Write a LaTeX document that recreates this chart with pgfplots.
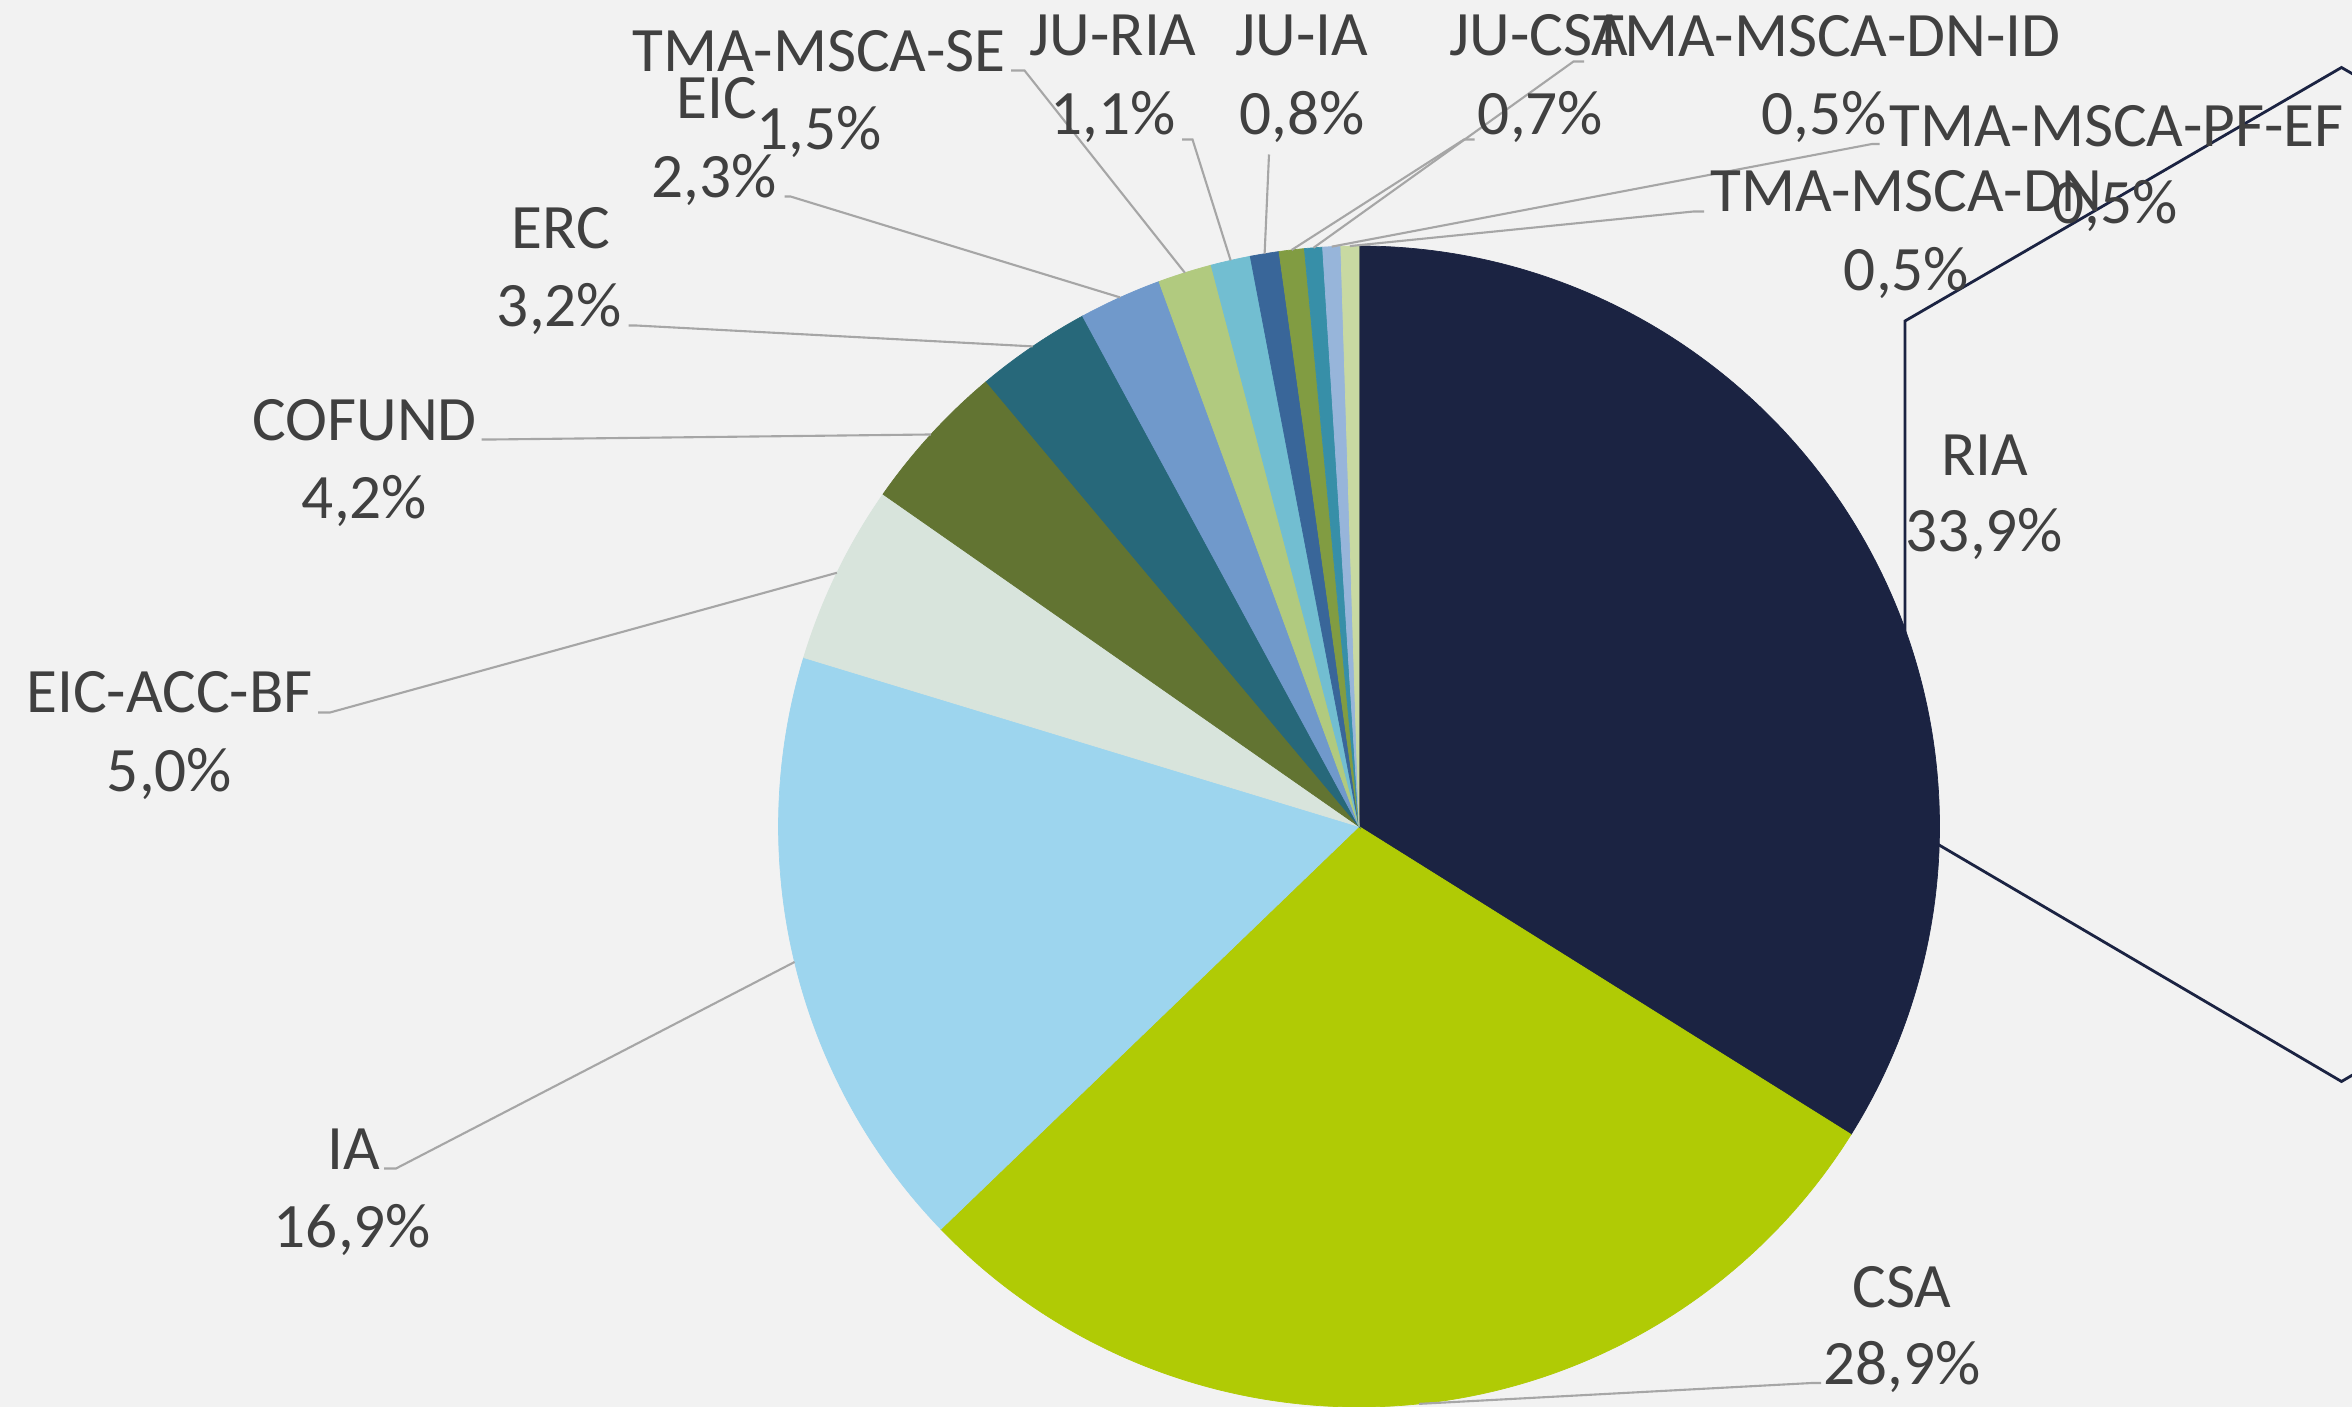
\documentclass[border=0pt]{standalone}
\usepackage{pgfplots}
\pgfplotsset{compat=1.18}
\usepackage{pgfplotstable}
\usepackage{fontspec}
\setmainfont{Carlito}
\usetikzlibrary{calc}
\definecolor{bg}{HTML}{F2F2F2}
\definecolor{txt}{HTML}{404040}
\definecolor{lead}{HTML}{A6A6A6}
\definecolor{navy}{HTML}{1B2342}
\definecolor{c0}{HTML}{1B2342}
\definecolor{c1}{HTML}{B0CB05}
\definecolor{c2}{HTML}{9DD5EE}
\definecolor{c3}{HTML}{D8E4DC}
\definecolor{c4}{HTML}{627432}
\definecolor{c5}{HTML}{27687A}
\definecolor{c6}{HTML}{7099CB}
\definecolor{c7}{HTML}{B1CA7F}
\definecolor{c8}{HTML}{72BED1}
\definecolor{c9}{HTML}{396699}
\definecolor{c10}{HTML}{819C42}
\definecolor{c11}{HTML}{378FA8}
\definecolor{c12}{HTML}{97B5DA}
\definecolor{c13}{HTML}{C8D9A2}
\pgfplotstableread{
label value
RIA 33.9
CSA 28.9
IA 16.9
EIC-ACC-BF 5.0
COFUND 4.2
ERC 3.2
EIC 2.3
TMA-MSCA-SE 1.5
JU-RIA 1.1
JU-IA 0.8
JU-CSA 0.7
TMA-MSCA-DN-ID 0.5
TMA-MSCA-PF-EF 0.5
TMA-MSCA-DN 0.5
}\piedata
\tikzset{
  lbl/.style={font=\fontsize{18}{22}\selectfont, text=txt, inner sep=0pt, anchor=base},
  leader/.style={draw=lead, line width=0.6pt},
}
\newcommand\R{5.805cm}
\begin{document}
\begin{tikzpicture}
\def\cum{0}
\pgfplotsforeachungrouped \i in {0,...,13}{%
  \pgfplotstablegetelem{\i}{value}\of\piedata
  \pgfmathsetmacro\sa{90-3.6*\cum}%
  \pgfmathsetmacro\cum{\cum+\pgfplotsretval}%
  \pgfmathsetmacro\ea{90-3.6*\cum}%
  \pgfmathsetmacro\ma{(\sa+\ea)/2}%
  \expandafter\xdef\csname sa\i\endcsname{\sa}%
  \expandafter\xdef\csname ea\i\endcsname{\ea}%
  \expandafter\xdef\csname ma\i\endcsname{\ma}%
}
\useasboundingbox (0,0) rectangle (23.52cm,14.07cm);
\clip (0,0) rectangle (23.52cm,14.07cm);
\fill[bg] (0,0) rectangle (23.52cm,14.07cm);
\begin{axis}[
  scale only axis, width=23.52cm, height=14.07cm,
  xmin=0, xmax=1568, ymin=0, ymax=938, y dir=reverse,
  hide axis, clip=false,
]
% callout outline behind RIA
\draw[navy, line width=0.8pt] (axis cs:1270,214) -- (axis cs:1561,45) -- (axis cs:1852,214)
  -- (axis cs:1852,550) -- (axis cs:1561,721) -- (axis cs:1270,550) -- cycle;
% pie slices
\pgfplotsinvokeforeach{0,...,13}{
  \fill[c#1, draw=c#1, line width=0.2pt] (axis cs:906,551) -- ($(axis cs:906,551)+(\csname sa#1\endcsname:\R)$)
    arc[start angle=\csname sa#1\endcsname, end angle=\csname ea#1\endcsname, radius=\R] -- cycle;
}
% leader lines
\draw[leader] (axis cs:1214,922) -- (axis cs:1208,922) -- ($(axis cs:906,551)+(\csname ma1\endcsname:\R)$);
\draw[leader] (axis cs:256,779) -- (axis cs:264,779) -- ($(axis cs:906,551)+(\csname ma2\endcsname:\R)$);
\draw[leader] (axis cs:212,475) -- (axis cs:220,475) -- ($(axis cs:906,551)+(\csname ma3\endcsname:\R)$);
\draw[leader] (axis cs:321,293) -- (axis cs:328,293) -- ($(axis cs:906,551)+(\csname ma4\endcsname:\R)$);
\draw[leader] (axis cs:419,217) -- (axis cs:424,217) -- ($(axis cs:906,551)+(\csname ma5\endcsname:\R)$);
\draw[leader] (axis cs:523,131) -- (axis cs:527,131) -- ($(axis cs:906,551)+(\csname ma6\endcsname:\R)$);
\draw[leader] (axis cs:674,47) -- (axis cs:683,47) -- ($(axis cs:906,551)+(\csname ma7\endcsname:\R)$);
\draw[leader] (axis cs:788,93) -- (axis cs:795,93) -- ($(axis cs:906,551)+(\csname ma8\endcsname:\R)$);
\draw[leader] (axis cs:846,103) -- ($(axis cs:906,551)+(\csname ma9\endcsname:\R)$);
\draw[leader] (axis cs:983,93) -- (axis cs:976,93) -- ($(axis cs:906,551)+(\csname ma10\endcsname:\R)$);
\draw[leader] (axis cs:1056,41) -- (axis cs:1049,41) -- ($(axis cs:906,551)+(\csname ma11\endcsname:\R)$);
\draw[leader] (axis cs:1253,96) -- (axis cs:1248,96) -- ($(axis cs:906,551)+(\csname ma12\endcsname:\R)$);
\draw[leader] (axis cs:1136,141) -- (axis cs:1129,141) -- ($(axis cs:906,551)+(\csname ma13\endcsname:\R)$);
% labels
\node[lbl] at (axis cs:1323,317) {RIA};
\node[lbl] at (axis cs:1323,368) {33,9\%};
\node[lbl] at (axis cs:1268,872) {CSA};
\node[lbl] at (axis cs:1268,923) {28,9\%};
\node[lbl] at (axis cs:236,780) {IA};
\node[lbl] at (axis cs:235,832) {16,9\%};
\node[lbl] at (axis cs:113,475) {EIC-ACC-BF};
\node[lbl] at (axis cs:113,528) {5,0\%};
\node[lbl] at (axis cs:243,294) {COFUND};
\node[lbl] at (axis cs:243,346) {4,2\%};
\node[lbl] at (axis cs:374,166) {ERC};
\node[lbl] at (axis cs:373,218) {3,2\%};
\node[lbl] at (axis cs:478,79) {EIC};
\node[lbl] at (axis cs:476,132) {2,3\%};
\node[lbl] at (axis cs:546,48) {TMA-MSCA-SE};
\node[lbl] at (axis cs:546,100) {1,5\%};
\node[lbl] at (axis cs:742,37) {JU-RIA};
\node[lbl] at (axis cs:742,90) {1,1\%};
\node[lbl] at (axis cs:868,37) {JU-IA};
\node[lbl] at (axis cs:868,90) {0,8\%};
\node[lbl] at (axis cs:1026,37) {JU-CSA};
\node[lbl] at (axis cs:1027,90) {0,7\%};
\node[lbl] at (axis cs:1218,38) {TMA-MSCA-DN-ID};
\node[lbl] at (axis cs:1216,90) {0,5\%};
\node[lbl] at (axis cs:1411,98) {TMA-MSCA-PF-EF};
\node[lbl] at (axis cs:1410,149) {0,5\%};
\node[lbl] at (axis cs:1271,141) {TMA-MSCA-DN};
\node[lbl] at (axis cs:1271,194) {0,5\%};
\end{axis}
\end{tikzpicture}
\end{document}
